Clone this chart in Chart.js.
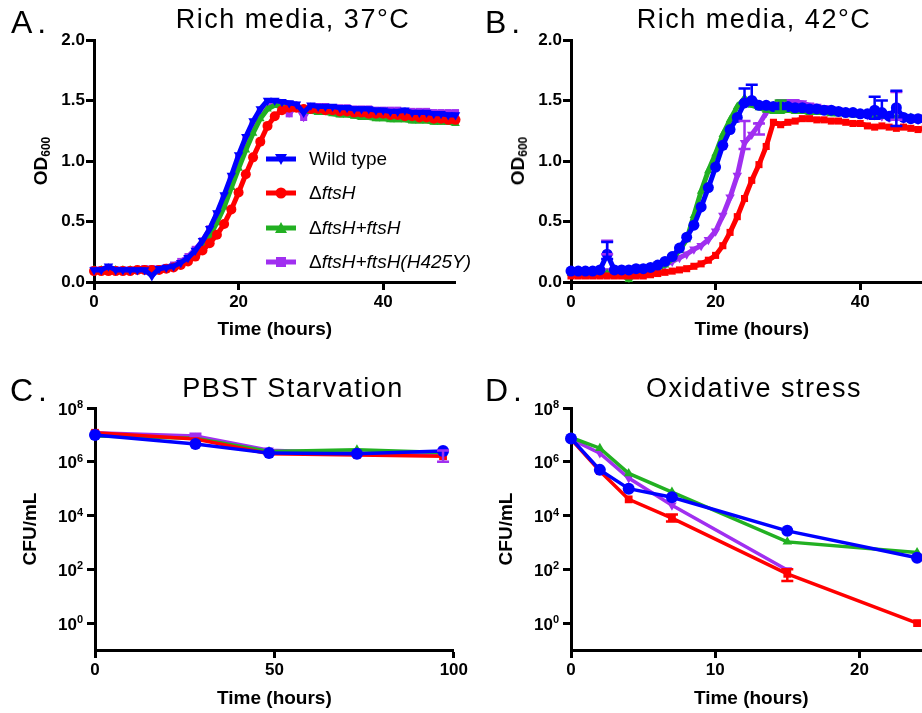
<!DOCTYPE html>
<html>
<head>
<meta charset="utf-8">
<script src="https://cdn.jsdelivr.net/npm/chart.js@4.4.0/dist/chart.umd.min.js"></script>
<style>
  body { margin: 0; width: 922px; height: 713px; overflow: hidden; position: relative; background: #fff;
         font-family: "Liberation Sans", Arial, sans-serif; color: #000; }
  canvas { position: absolute; }
  .letter { position: absolute; font-size: 32px; line-height: 32px; letter-spacing: 5px; }
  .title { position: absolute; font-size: 27px; line-height: 27px; letter-spacing: 1.5px; white-space: nowrap;
           transform: translateX(-50%); }
  .ytitle { position: absolute; font-size: 19px; font-weight: bold; line-height: 22px; white-space: nowrap;
            transform: translate(-50%, -50%) rotate(-90deg); }
  .ytitle .sub { font-size: 12px; position: relative; top: 3px; }
  .leg { position: absolute; left: 266px; height: 24px; font-size: 19px; line-height: 24px; white-space: nowrap; z-index: 5; }
  .leg svg { position: absolute; left: 0; top: 0; }
  .leg span { position: absolute; left: 43px; top: 0; }
</style>
</head>
<body>

<canvas id="chartA" width="470" height="356" style="left:0;top:0"></canvas>
<canvas id="chartB" width="470" height="356" style="left:477px;top:0"></canvas>
<canvas id="chartC" width="470" height="357" style="left:0;top:356px"></canvas>
<canvas id="chartD" width="470" height="357" style="left:476px;top:356px"></canvas>

<div class="letter" style="left:11px;top:6px">A.</div>
<div class="letter" style="left:485px;top:6px">B.</div>
<div class="letter" style="left:10px;top:374px">C.</div>
<div class="letter" style="left:485px;top:374px">D.</div>

<div class="title" style="left:293px;top:6px">Rich media, 37°C</div>
<div class="title" style="left:754px;top:6px">Rich media, 42°C</div>
<div class="title" style="left:293px;top:375px">PBST Starvation</div>
<div class="title" style="left:754px;top:375px">Oxidative stress</div>

<div class="ytitle" style="left:42px;top:161px">OD<span class="sub">600</span></div>
<div class="ytitle" style="left:519px;top:161px">OD<span class="sub">600</span></div>

<div class="leg" style="top:147px">
  <svg width="30" height="24"><line x1="0" y1="12" x2="30" y2="12" stroke="#0000ff" stroke-width="5"/><polygon points="9,7 21,7 15,18" fill="#0000ff"/></svg>
  <span>Wild type</span>
</div>
<div class="leg" style="top:181px">
  <svg width="30" height="24"><line x1="0" y1="12" x2="30" y2="12" stroke="#ff0000" stroke-width="5"/><circle cx="15" cy="12" r="5.5" fill="#ff0000"/></svg>
  <span>Δ<i>ftsH</i></span>
</div>
<div class="leg" style="top:216px">
  <svg width="30" height="24"><line x1="0" y1="12" x2="30" y2="12" stroke="#22b022" stroke-width="5"/><polygon points="15,6 21,17 9,17" fill="#22b022"/></svg>
  <span>Δ<i>ftsH+ftsH</i></span>
</div>
<div class="leg" style="top:250px">
  <svg width="30" height="24"><line x1="0" y1="12" x2="30" y2="12" stroke="#a02ff0" stroke-width="5"/><rect x="10" y="7" width="10" height="10" fill="#a02ff0"/></svg>
  <span>Δ<i>ftsH+ftsH(H425Y)</i></span>
</div>

<script>
'use strict';

// DATA

// growth curves, OD600 read once an hour
let hours = [0, 1, 2, 3, 4, 5, 6, 7, 8, 9, 10, 11, 12, 13, 14, 15, 16, 17, 18, 19, 20,
  21, 22, 23, 24, 25, 26, 27, 28, 29, 30, 31, 32, 33, 34, 35, 36, 37, 38, 39, 40,
  41, 42, 43, 44, 45, 46, 47, 48, 49, 50];

// A. rich media 37C
let wtA = [0.10, 0.10, 0.13, 0.10, 0.10, 0.10, 0.10, 0.10, 0.05, 0.11,
  0.12, 0.13, 0.16, 0.20, 0.26, 0.34, 0.44, 0.57, 0.72, 0.88,
  1.05, 1.20, 1.33, 1.43, 1.50, 1.50, 1.49, 1.48, 1.47, 1.40,
  1.46, 1.45, 1.45, 1.45, 1.44, 1.44, 1.43, 1.43, 1.43, 1.42,
  1.42, 1.41, 1.41, 1.42, 1.40, 1.40, 1.40, 1.39, 1.39, 1.38,
  1.38];
let delA = [0.09, 0.09, 0.09, 0.09, 0.09, 0.09, 0.10, 0.10, 0.10, 0.10,
  0.11, 0.12, 0.14, 0.17, 0.21, 0.26, 0.32, 0.39, 0.48, 0.60,
  0.74, 0.89, 1.03, 1.16, 1.29, 1.37, 1.42, 1.44, 1.44, 1.43,
  1.43, 1.43, 1.42, 1.42, 1.41, 1.41, 1.40, 1.40, 1.39, 1.39,
  1.39, 1.38, 1.38, 1.37, 1.37, 1.36, 1.36, 1.35, 1.35, 1.34,
  1.34];
let compA = [0.10, 0.10, 0.10, 0.10, 0.10, 0.10, 0.10, 0.10, 0.08, 0.10,
  0.11, 0.12, 0.15, 0.18, 0.23, 0.30, 0.38, 0.49, 0.62, 0.78,
  0.94, 1.09, 1.23, 1.35, 1.43, 1.46, 1.45, 1.44, 1.43, 1.42,
  1.41, 1.40, 1.40, 1.39, 1.38, 1.38, 1.37, 1.36, 1.36, 1.35,
  1.35, 1.34, 1.34, 1.34, 1.33, 1.33, 1.33, 1.32, 1.32, 1.32,
  1.31];
let mutA = [0.10, 0.10, 0.11, 0.10, 0.10, 0.10, 0.10, 0.11, 0.11, 0.11,
  0.12, 0.14, 0.17, 0.21, 0.27, 0.34, 0.44, 0.56, 0.70, 0.86,
  1.02, 1.17, 1.30, 1.40, 1.46, 1.48, 1.47, 1.39, 1.46, 1.36,
  1.45, 1.45, 1.45, 1.44, 1.44, 1.44, 1.43, 1.43, 1.43, 1.42,
  1.42, 1.42, 1.42, 1.41, 1.41, 1.41, 1.41, 1.40, 1.40, 1.40,
  1.40];

// B. rich media 42C
let wtB = [0.09, 0.09, 0.09, 0.09, 0.10, 0.23, 0.10, 0.10, 0.10, 0.11,
  0.11, 0.12, 0.14, 0.17, 0.21, 0.28, 0.37, 0.47, 0.62, 0.78,
  0.95, 1.13, 1.26, 1.36, 1.48, 1.50, 1.46, 1.46, 1.45, 1.45,
  1.45, 1.44, 1.44, 1.43, 1.43, 1.42, 1.42, 1.41, 1.40, 1.40,
  1.39, 1.39, 1.42, 1.40, 1.37, 1.44, 1.36, 1.35, 1.35, 1.35,
  1.34];
let delB = [0.05, 0.05, 0.05, 0.05, 0.05, 0.05, 0.05, 0.05, 0.05, 0.05,
  0.05, 0.06, 0.07, 0.08, 0.09, 0.10, 0.11, 0.13, 0.15, 0.18,
  0.22, 0.30, 0.41, 0.54, 0.69, 0.84, 0.97, 1.12, 1.32, 1.30,
  1.32, 1.33, 1.35, 1.35, 1.34, 1.34, 1.33, 1.33, 1.32, 1.31,
  1.31, 1.29, 1.28, 1.29, 1.28, 1.27, 1.28, 1.27, 1.26, 1.27,
  1.27];
let compB = [0.07, 0.09, 0.07, 0.07, 0.07, 0.07, 0.07, 0.06, 0.02, 0.07,
  0.08, 0.09, 0.11, 0.14, 0.19, 0.26, 0.35, 0.55, 0.75, 0.92,
  1.06, 1.22, 1.34, 1.45, 1.52, 1.46, 1.44, 1.42, 1.41, 1.41,
  1.42, 1.41, 1.41, 1.40, 1.40, 1.40, 1.39, 1.39, 1.39, 1.38,
  1.38, 1.38, 1.37, 1.37, 1.37, 1.36, 1.36, 1.36, 1.35, 1.35,
  1.35];
let mutB = [0.08, 0.08, 0.08, 0.08, 0.08, 0.09, 0.08, 0.08, 0.08, 0.08,
  0.09, 0.10, 0.12, 0.14, 0.17, 0.20, 0.23, 0.27, 0.30, 0.35,
  0.42, 0.55, 0.70, 0.88, 1.15, 1.22, 1.30, 1.40, 1.46, 1.49,
  1.49, 1.49, 1.48, 1.46, 1.45, 1.44, 1.43, 1.42, 1.41, 1.40,
  1.39, 1.38, 1.38, 1.37, 1.36, 1.36, 1.35, 1.35, 1.34, 1.34,
  1.34];

// error bars: [hour, low, high]
let wtBErr = [[5, 0.19, 0.33], [24, 1.48, 1.60], [25, 1.50, 1.63], [42, 1.35, 1.53], [43, 1.36, 1.50], [45, 1.29, 1.58]];
let mutBErr = [[5, 0.23, 0.34], [24, 1.10, 1.33], [26, 1.22, 1.31], [45, 1.34, 1.57]];
let compBErr = [[29, 1.41, 1.50]];

// C. PBST starvation, CFU/mL
let hoursC = [0, 28, 48.5, 73, 97];
let wtC = [1.0e7, 4.6e6, 2.1e6, 2.0e6, 2.5e6];
let delC = [1.2e7, 7.0e6, 2.0e6, 1.8e6, 1.6e6];
let compC = [9.0e6, 7.5e6, 2.4e6, 2.8e6, 2.2e6];
let mutC = [1.2e7, 9.0e6, 2.7e6, 2.1e6, 2.0e6];
let mutCErr = [[28, 9.0e6, 1.1e7], [97, 1.0e6, 2.6e6]];

// D. oxidative stress, CFU/mL
let hoursD = [0, 2, 4, 7, 15, 24];
let wtD = [7.4e6, 5.0e5, 1.0e5, 4.8e4, 2.7e3, 2.7e2];
let delD = [7.0e6, 4.5e5, 4.0e4, 8.0e3, 68, 1.0];
let compD = [8.0e6, 3.2e6, 3.7e5, 7.5e4, 1.05e3, 4.2e2];
let mutD = [7.0e6, 2.1e6, 2.5e5, 2.4e4, 95, null];
let delDErr = [[7, 6.0e3, 1.1e4], [15, 37, 100]];

// tick labels
let odTicks = [0, 0.5, 1.0, 1.5, 2.0];
let cfuTicks = [1, 1e2, 1e4, 1e6, 1e8];
let xTicksAB = [0, 20, 40];
let xTicksC = [0, 50, 100];
let xTicksD = [0, 10, 20];

// colours
let BLUE = '#0000ff';
let RED = '#ff0000';
let GREEN = '#22b022';
let PURPLE = '#a02ff0';

Chart.defaults.font.family = '"Liberation Sans", Arial, sans-serif';

let tickFont = { size: 17, weight: 'bold' };
let titleFont = { size: 19, weight: 'bold' };
let TICK_LEN = 8;

// HELPERS

function pts(xs, ys) {
  return xs.map(function (x, i) { return { x: x, y: ys[i] }; });
}

function series(label, xs, ys, color, style, rot, radius, width) {
  return {
    label: label,
    data: pts(xs, ys),
    borderColor: color,
    backgroundColor: color,
    pointBackgroundColor: color,
    pointBorderColor: color,
    pointBorderWidth: 0,
    pointStyle: style,
    pointRotation: rot,
    pointRadius: radius,
    borderWidth: width,
    tension: 0,
    spanGaps: false,
    clip: false
  };
}

// draws error bars through the chart scales
const errorBarPlugin = {
  id: 'errorBars',
  afterDatasetsDraw(chart, args, opts) {
    let ctx = chart.ctx;
    let xs = chart.scales.x;
    let ys = chart.scales.y;
    ctx.save();
    ctx.lineWidth = 2.5;
    (opts.sets || []).forEach(function (set) {
      ctx.strokeStyle = set.color;
      set.bars.forEach(function (b) {
        let px = xs.getPixelForValue(b[0]);
        let lo = ys.getPixelForValue(b[1]);
        let hi = ys.getPixelForValue(b[2]);
        ctx.beginPath();
        ctx.moveTo(px, lo);
        ctx.lineTo(px, hi);
        ctx.moveTo(px - 6, hi);
        ctx.lineTo(px + 6, hi);
        ctx.moveTo(px - 6, lo);
        ctx.lineTo(px + 6, lo);
        ctx.stroke();
      });
    });
    ctx.restore();
  }
};

// exponents for the "10" tick labels of a log axis
const exponentPlugin = {
  id: 'exponents',
  afterDraw(chart) {
    let ys = chart.scales.y;
    if (ys.type !== 'logarithmic') return;
    let ctx = chart.ctx;
    ctx.save();
    ctx.fillStyle = '#000';
    ctx.font = 'bold 11px "Liberation Sans", Arial, sans-serif';
    ctx.textAlign = 'left';
    ctx.textBaseline = 'middle';
    ys.ticks.forEach(function (t) {
      let py = ys.getPixelForValue(t.value);
      ctx.fillText(String(Math.round(Math.log10(t.value))), ys.right - TICK_LEN - 10, py - 3);
    });
    ctx.restore();
  }
};

function axis(opts) {
  return {
    type: opts.type,
    min: opts.min,
    max: opts.max,
    grid: { display: true, drawOnChartArea: false, drawTicks: true, tickLength: TICK_LEN, tickWidth: 3, tickColor: '#000' },
    border: { display: true, color: '#000', width: 3 },
    ticks: {
      color: '#000', font: tickFont, padding: opts.tickPad, maxRotation: 0, autoSkip: false,
      labelOffset: opts.labelOffset || 0,
      callback: opts.fmt
    },
    title: { display: !!opts.title, text: opts.title, color: '#000', font: titleFont, padding: opts.titlePad },
    afterBuildTicks: function (s) { s.ticks = opts.ticks.map(function (v) { return { value: v }; }); },
    afterFit: function (s) {
      if (opts.width) s.width = opts.width;
      if (opts.height) s.height = opts.height;
    }
  };
}

function makeChart(id, datasets, xAxis, yAxis, padTop, errSets) {
  return new Chart(document.getElementById(id), {
    type: 'line',
    data: { datasets: datasets },
    options: {
      responsive: false,
      animation: false,
      layout: { padding: { top: padTop, left: 0, right: 14.5, bottom: 0 } },
      plugins: {
        legend: { display: false },
        tooltip: { enabled: false },
        errorBars: { sets: errSets }
      },
      scales: { x: xAxis, y: yAxis }
    },
    plugins: [errorBarPlugin, exponentPlugin]
  });
}

function odFmt(v) { return v.toFixed(1); }
function cfuFmt(v) { return '10'; }

// CHART A

makeChart('chartA', [
  series('Wild type', hours, wtA, BLUE, 'triangle', 180, 5.5, 5),
  series('ΔftsH', hours, delA, RED, 'circle', 0, 5, 5),
  series('ΔftsH+ftsH', hours, compA, GREEN, 'triangle', 0, 5, 5),
  series('ΔftsH+ftsH(H425Y)', hours, mutA, PURPLE, 'rect', 0, 5, 5)
],
axis({ type: 'linear', min: 0, max: 50, ticks: xTicksAB, tickPad: 2, title: 'Time (hours)', titlePad: { bottom: 15 }, height: 74 }),
axis({ type: 'linear', min: 0, max: 2, ticks: odTicks, tickPad: 1, fmt: odFmt, width: 94 }),
40, []);

// CHART B

makeChart('chartB', [
  series('Wild type', hours, wtB, BLUE, 'circle', 0, 5.5, 5),
  series('ΔftsH', hours, delB, RED, 'rect', 0, 5, 5),
  series('ΔftsH+ftsH', hours, compB, GREEN, 'triangle', 0, 5, 5),
  series('ΔftsH+ftsH(H425Y)', hours, mutB, PURPLE, 'triangle', 180, 5.5, 5)
],
axis({ type: 'linear', min: 0, max: 50, ticks: xTicksAB, tickPad: 2, title: 'Time (hours)', titlePad: { bottom: 15 }, height: 74 }),
axis({ type: 'linear', min: 0, max: 2, ticks: odTicks, tickPad: 1, fmt: odFmt, width: 94 }),
40, [
  { color: GREEN, bars: compBErr },
  { color: PURPLE, bars: mutBErr },
  { color: BLUE, bars: wtBErr }
]);

// CHART C

makeChart('chartC', [
  series('Wild type', hoursC, wtC, BLUE, 'circle', 0, 6, 3.5),
  series('ΔftsH', hoursC, delC, RED, 'rect', 0, 5.5, 3.5),
  series('ΔftsH+ftsH', hoursC, compC, GREEN, 'triangle', 0, 5.5, 3.5),
  series('ΔftsH+ftsH(H425Y)', hoursC, mutC, PURPLE, 'triangle', 180, 5.5, 3.5)
],
axis({ type: 'linear', min: 0, max: 100, ticks: xTicksC, tickPad: 2, title: 'Time (hours)', titlePad: { bottom: 3 }, height: 63 }),
axis({ type: 'logarithmic', min: 0.1, max: 1e8, ticks: cfuTicks, tickPad: 10, labelOffset: 2, fmt: cfuFmt, title: 'CFU/mL', titlePad: { top: 19 }, width: 95 }),
52, [
  { color: PURPLE, bars: mutCErr }
]);

// CHART D

makeChart('chartD', [
  series('Wild type', hoursD, wtD, BLUE, 'circle', 0, 6, 3.5),
  series('ΔftsH', hoursD, delD, RED, 'rect', 0, 5.5, 3.5),
  series('ΔftsH+ftsH', hoursD, compD, GREEN, 'triangle', 0, 5.5, 3.5),
  series('ΔftsH+ftsH(H425Y)', hoursD, mutD, PURPLE, 'triangle', 180, 5.5, 3.5)
],
axis({ type: 'linear', min: 0, max: 25, ticks: xTicksD, tickPad: 2, title: 'Time (hours)', titlePad: { bottom: 3 }, height: 63 }),
axis({ type: 'logarithmic', min: 0.1, max: 1e8, ticks: cfuTicks, tickPad: 10, labelOffset: 2, fmt: cfuFmt, title: 'CFU/mL', titlePad: { top: 19 }, width: 95 }),
52, [
  { color: RED, bars: delDErr }
]);
</script>
</body>
</html>
